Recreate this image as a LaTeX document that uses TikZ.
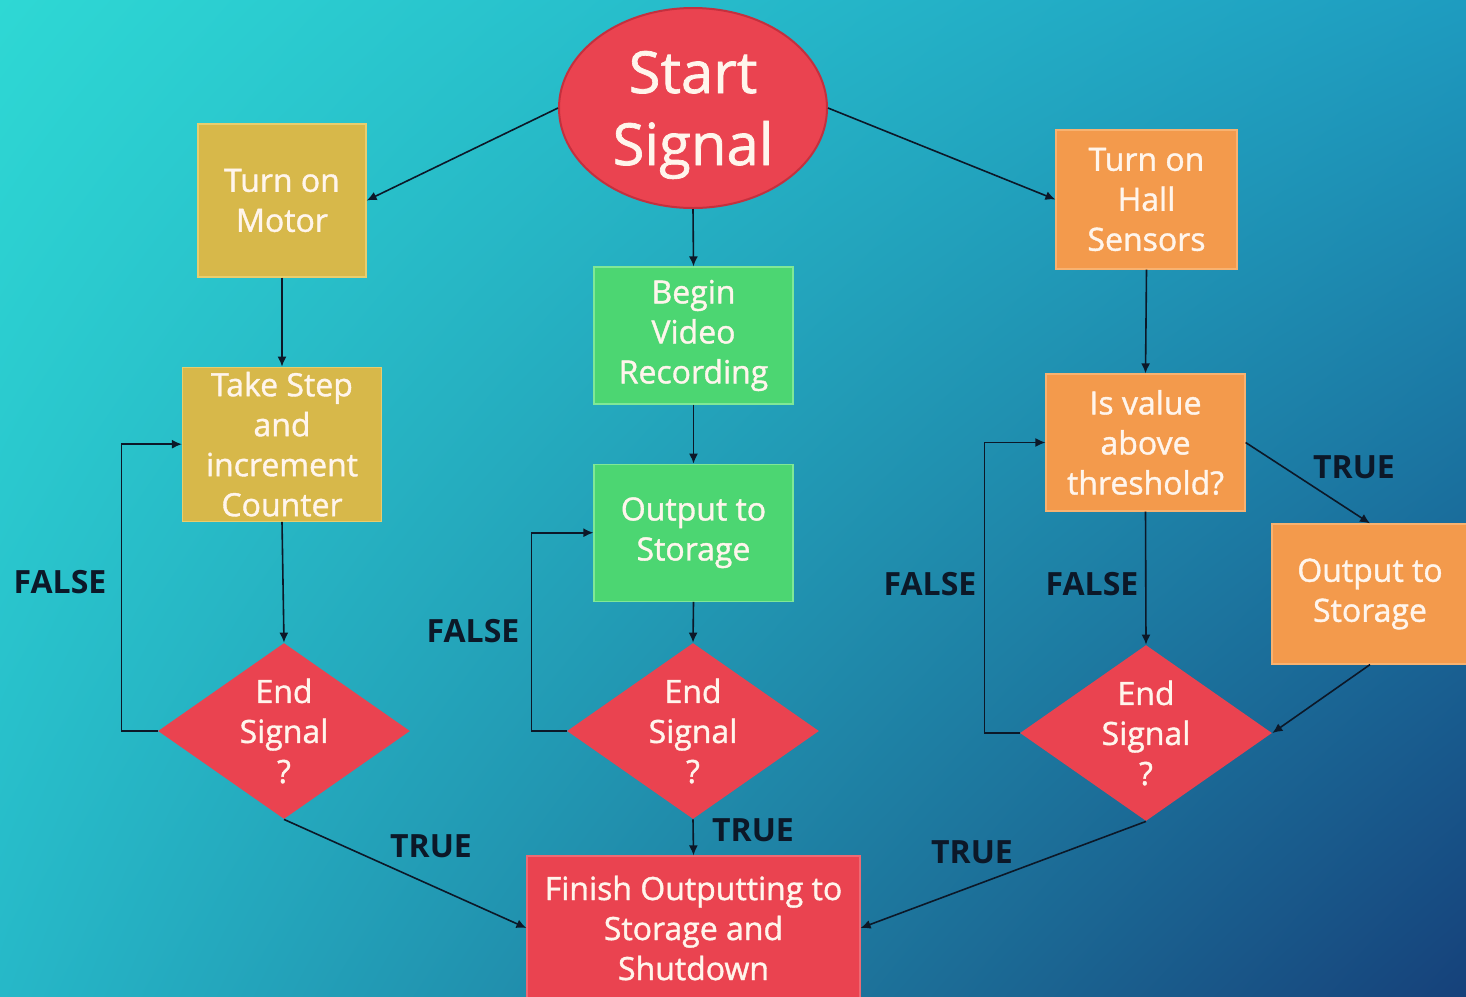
\documentclass[tikz,border=0pt]{standalone}
\usepackage{fontspec}
\setmainfont{Open Sans}
\newfontfamily\boxfont{Open Sans}[RawFeature={embolden=1.2}]
\usetikzlibrary{shapes.geometric, arrows.meta, positioning, shadings}
\usepackage{xcolor}
\definecolor{fcTopLeft}{RGB}{46, 216, 212}
\definecolor{fcTopRight}{RGB}{30, 156, 192}
\definecolor{fcBottomLeft}{RGB}{38, 184, 200}
\definecolor{fcBottomRight}{RGB}{22, 65, 122}
\definecolor{fcRed}{RGB}{234, 67, 80}
\definecolor{fcDarkRed}{RGB}{196, 48, 62}
\definecolor{fcYellow}{RGB}{215, 184, 74}
\definecolor{fcLightYellow}{RGB}{232, 205, 110}
\definecolor{fcGreen}{RGB}{76, 214, 114}
\definecolor{fcLightGreen}{RGB}{128, 232, 150}
\definecolor{fcOrange}{RGB}{243, 154, 76}
\definecolor{fcLightOrange}{RGB}{248, 178, 112}
\definecolor{fcText}{RGB}{255, 245, 236}
\definecolor{fcLine}{RGB}{12, 24, 40}

\begin{document}
\begin{tikzpicture}[
    x=0.5pt, y=-0.5pt,
    stepbox/.style={
        rectangle,
        inner sep=0pt,
        align=center,
        font=\boxfont\fontsize{16}{20}\selectfont,
        text=fcText,
        line width=0.6pt
    },
    yellowbox/.style={stepbox, fill=fcYellow, draw=fcLightYellow},
    greenbox/.style={stepbox, fill=fcGreen, draw=fcLightGreen},
    orangebox/.style={stepbox, fill=fcOrange, draw=fcLightOrange},
    redbox/.style={stepbox, fill=fcRed, draw=fcRed!80!white},
    decision/.style={
        diamond,
        inner sep=0pt,
        minimum width=126pt,
        minimum height=88pt,
        fill=fcRed
    },
    decisiontext/.style={
        align=center,
        font=\boxfont\fontsize{16}{20}\selectfont,
        text=fcText
    },
    flow/.style={
        -{Latex[length=5pt, width=4.5pt]},
        line width=0.8pt,
        draw=fcLine
    },
    answer/.style={
        font=\fontsize{16}{18}\selectfont\bfseries,
        text=fcLine
    }
]

% Background
\useasboundingbox (0,0) rectangle (1466,996);
\shade[upper left=fcTopLeft, upper right=fcTopRight,
       lower left=fcBottomLeft, lower right=fcBottomRight] (0,0) rectangle (1466,996);

% Start
\node[ellipse, minimum width=134pt, minimum height=100pt, inner sep=0pt, text depth=0pt,
      fill=fcRed, draw=fcDarkRed, line width=1pt, align=center,
      font=\boxfont\fontsize{29}{36}\selectfont, text=fcText] (start) at (693,108) {Start\\Signal};

% Left column - motor
\node[yellowbox, minimum width=84pt, minimum height=76.5pt] (motor) at (282,200.5) {Turn on\\Motor};
\node[yellowbox, minimum width=99.5pt, minimum height=77pt, below=44.5pt of motor] (takestep) {Take Step\\and\\increment\\Counter};
\node[decision, label={[decisiontext]center:End\\Signal\\?}] (endleft) at (284,731) {};

% Middle column - video
\node[greenbox, minimum width=99.5pt, minimum height=68.5pt] (video) at (693.5,335.5) {Begin\\Video\\Recording};
\node[greenbox, minimum width=99.5pt, minimum height=68.5pt, below=29.5pt of video] (outmid) {Output to\\Storage};
\node[decision, label={[decisiontext]center:End\\Signal\\?}] (endmid) at (693,731) {};

% Right column - hall sensors
\node[orangebox, minimum width=90.5pt, minimum height=69.5pt] (hall) at (1146.5,199.5) {Turn on\\Hall\\Sensors};
\node[orangebox, minimum width=99.5pt, minimum height=68.5pt] (threshold) at (1145.5,442.5) {Is value\\above\\threshold?};
\node[orangebox, minimum width=98pt, minimum height=70pt] (outright) at (1370,594) {Output to\\Storage};
\node[decision, label={[decisiontext]center:End\\Signal\\?}] (endright) at (1146,733) {};

% Bottom - shutdown
\node[redbox, minimum width=166.5pt, minimum height=72pt] (finish) at (693.5,928) {Finish Outputting to\\Storage and\\Shutdown};

% Connectors
\draw[flow] (start.west) -- (motor.east);
\draw[flow] (start.east) -- (hall.west);
\draw[flow] (start.south) -- (video.north);
\draw[flow] (motor.south) -- (takestep.north);
\draw[flow] (takestep.south) -- (endleft.north);
\draw[flow] (endleft.west) -- ++(-36,0) |- (takestep.west);
\draw[flow] (endleft.south) -- (finish.west);
\draw[flow] (video.south) -- (outmid.north);
\draw[flow] (outmid.south) -- (endmid.north);
\draw[flow] (endmid.west) -- ++(-35,0) |- (outmid.west);
\draw[flow] (endmid.south) -- (finish.north);
\draw[flow] (hall.south) -- (threshold.north);
\draw[flow] (threshold.south) -- (endright.north);
\draw[flow] (threshold.east) -- (outright.north);
\draw[flow] (outright.south) -- (endright.east);
\draw[flow] (endright.west) -- ++(-35,0) |- (threshold.west);
\draw[flow] (endright.south) -- (finish.east);

% Labels
\node[answer] (falseleft) at (60,582) {FALSE};
\node[answer] (trueleft) at (431,846) {TRUE};
\node[answer] (falsemid) at (473,631) {FALSE};
\node[answer] (truemid) at (753,830) {TRUE};
\node[answer] (falseloop) at (930,584) {FALSE};
\node[answer] (falseright) at (1092,584) {FALSE};
\node[answer] (trueupper) at (1354,467) {TRUE};
\node[answer] (truelower) at (972,852) {TRUE};

\end{tikzpicture}
\end{document}
